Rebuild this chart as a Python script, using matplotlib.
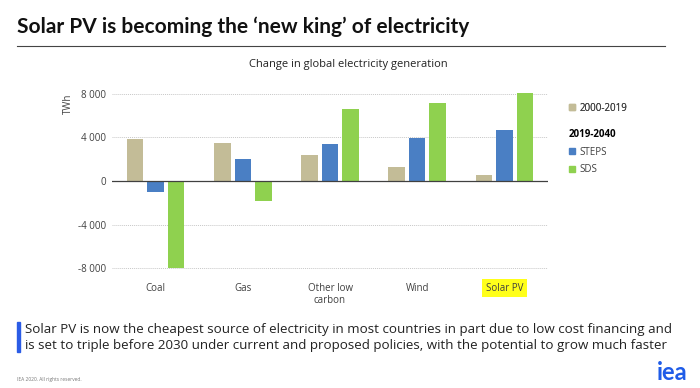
import matplotlib.pyplot as plt
from matplotlib.patches import Patch, Rectangle
from matplotlib.lines import Line2D
import numpy as np

plt.rcParams['font.family'] = ['Open Sans', 'DejaVu Sans']

categories = ['Coal', 'Gas', 'Other low\ncarbon', 'Wind', 'Solar PV']
hist_2000_2019 = [3900, 3450, 2400, 1320, 550]
steps_2019_2040 = [-980, 2000, 3400, 3950, 4720]
sds_2019_2040 = [-8000, -1820, 6650, 7180, 8100]
yticks = [-8000, -4000, 0, 4000, 8000]
ytick_labels = ['-8 000', '-4 000', '0', '4 000', '8 000']

c_hist = '#c3bc97'
c_steps = '#4a7fc4'
c_sds = '#8fd14f'

fig = plt.figure(figsize=(7, 3.88), dpi=100)

# slide title + rule
fig.text(17 / 700, 1 - 27 / 388, 'Solar PV is becoming the \u2018new king\u2019 of electricity',
         fontsize=15, fontweight='bold', color='#111111', va='center', family='Lato')
fig.add_artist(Line2D([17 / 700, 665 / 700], [1 - 46 / 388, 1 - 46 / 388],
                      color='#444444', lw=0.8))

ax = fig.add_axes([112 / 700, 0.3036, 436 / 700, 0.4626])
x = np.arange(len(categories))
w = 0.19
off = 0.235
ax.bar(x - off, hist_2000_2019, w, color=c_hist)
ax.bar(x, steps_2019_2040, w, color=c_steps)
ax.bar(x + off, sds_2019_2040, w, color=c_sds)

ax.set_xlim(-0.5, len(categories) - 0.5)
ax.set_ylim(-8200, 8300)
ax.set_yticks(yticks)
ax.set_yticklabels(ytick_labels)
ax.set_xticks(x)
ax.set_xticklabels(categories)
ax.tick_params(length=0, labelsize=7, colors='#404040', pad=4)
ax.tick_params(axis='x', pad=9)
for s in ax.spines.values():
    s.set_visible(False)
ax.grid(axis='y', color='#c8c8c8', ls=(0, (1, 1)), lw=0.7)
ax.set_axisbelow(True)
ax.axhline(0, color='#404040', lw=0.9)

# highlight Solar PV label
ax.get_xticklabels()[-1].set_bbox(dict(facecolor='#ffff1a', edgecolor='none', pad=2.5))

fig.text(348 / 700, 1 - 65 / 388, 'Change in global electricity generation', fontsize=8,
         color='#222222', ha='center', va='center')
fig.text(68 / 700, 1 - 104 / 388, 'TWh', rotation=90, fontsize=7, color='#404040',
         ha='center', va='center')

# legend
leg1 = fig.legend(handles=[Patch(color=c_hist)], labels=['2000-2019'],
                  loc='upper left', bbox_to_anchor=(560 / 700, 1 - 94 / 388),
                  frameon=False, fontsize=7, handlelength=0.6, handleheight=0.6,
                  handletextpad=0.5, labelcolor='#404040')
leg2 = fig.legend(handles=[Patch(color=c_steps), Patch(color=c_sds)], labels=['STEPS', 'SDS'],
                  loc='upper left', bbox_to_anchor=(560 / 700, 1 - 120 / 388),
                  frameon=False, fontsize=7, handlelength=0.6, handleheight=0.6,
                  handletextpad=0.5, labelcolor='#404040', title='2019-2040',
                  title_fontproperties={'weight': 'bold', 'size': 7}, alignment='left',
                  labelspacing=0.7)
fig.add_artist(leg1)

# key message
fig.add_artist(Rectangle((17 / 700, 1 - 352 / 388), 3 / 700, 30 / 388,
                         color='#2b5ce6', transform=fig.transFigure))
fig.text(25 / 700, 1 - 329 / 388,
         'Solar PV is now the cheapest source of electricity in most countries in part due to low cost financing and',
         fontsize=9.6, color='#222222', va='center')
fig.text(25 / 700, 1 - 346 / 388,
         'is set to triple before 2030 under current and proposed policies, with the potential to grow much faster',
         fontsize=9.6, color='#222222', va='center')

fig.text(17 / 700, 1 - 379 / 388, 'IEA 2020. All rights reserved.', fontsize=3.5,
         color='#777777', va='center')
fig.text(688 / 700, 1 - 372 / 388, 'iea', fontsize=17, fontweight='bold', color='#1f5ce8',
         ha='right', va='center', family='Lato')

fig.savefig('out.png', dpi=100)
